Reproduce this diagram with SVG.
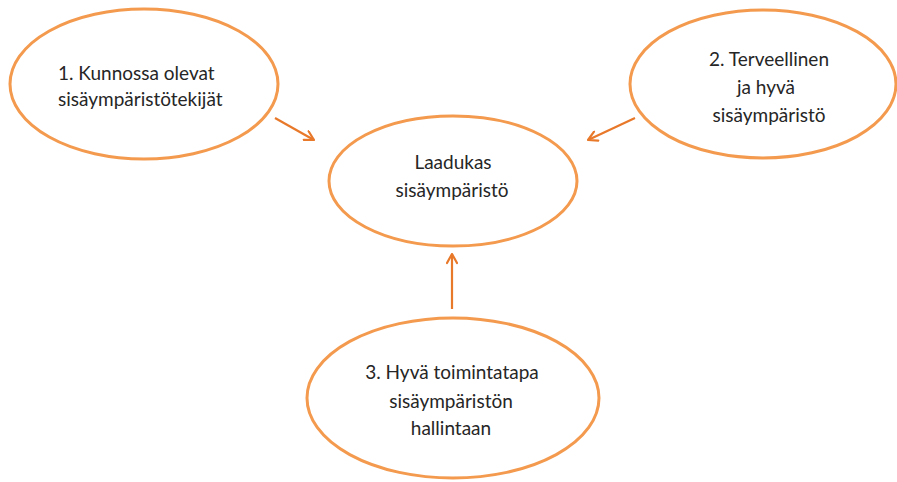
<svg xmlns="http://www.w3.org/2000/svg" width="897" height="482" viewBox="0 0 897 482">
<defs>
<style>
.node ellipse{fill:#ffffff;stroke:#F39A4E;stroke-width:3}
.node text{font-family:Lato,"Liberation Sans",sans-serif;font-size:19px;fill:#262626;text-anchor:middle}
.node text.left{text-anchor:start}
.conn line{stroke:#E8782A;stroke-width:2.2;fill:none}
</style>
<marker id="arr" viewBox="0 0 12 12" refX="11" refY="6" markerWidth="12" markerHeight="12" markerUnits="userSpaceOnUse" orient="auto">
<path d="M2,1 L11,6 L2,11" fill="none" stroke="#E8782A" stroke-width="2.2" stroke-linecap="round" stroke-linejoin="round"/>
</marker>
</defs>
<rect width="897" height="482" fill="#ffffff"/>
<g id="n1" class="node">
<ellipse cx="144" cy="84" rx="134" ry="75"/>
<text class="left" x="58" y="80">1. Kunnossa olevat</text>
<text class="left" x="58" y="106">sisäympäristötekijät</text>
</g>
<g id="n2" class="node">
<ellipse cx="763" cy="84" rx="133" ry="74"/>
<text x="769" y="66">2. Terveellinen</text>
<text x="766" y="94">ja hyvä</text>
<text x="769" y="122">sisäympäristö</text>
</g>
<g id="center" class="node">
<ellipse cx="453" cy="181" rx="124" ry="65"/>
<text x="453" y="169">Laadukas</text>
<text x="452" y="197">sisäympäristö</text>
</g>
<g id="n3" class="node">
<ellipse cx="453" cy="398" rx="146" ry="80"/>
<text x="452" y="379">3. Hyvä toimintatapa</text>
<text x="451" y="408">sisäympäristön</text>
<text x="451" y="435">hallintaan</text>
</g>
<g id="connectors" class="conn">
<line x1="275" y1="118" x2="314" y2="140" marker-end="url(#arr)"/>
<line x1="635" y1="118" x2="588" y2="140" marker-end="url(#arr)"/>
<line x1="452" y1="309" x2="452" y2="254" marker-end="url(#arr)"/>
</g>
</svg>
